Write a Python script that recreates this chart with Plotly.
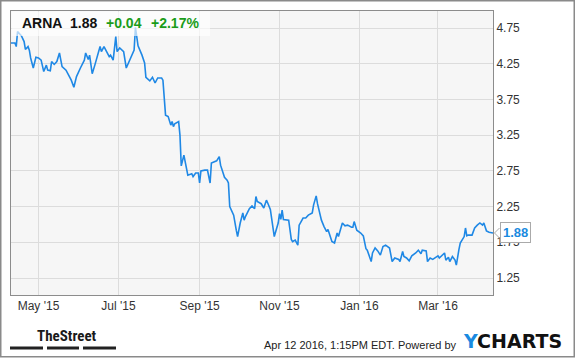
import plotly.graph_objects as go

dates = [
    "2015-04-10", "2015-04-13", "2015-04-14", "2015-04-15", "2015-04-18", "2015-04-20", "2015-04-21",
    "2015-04-23", "2015-04-24", "2015-04-25", "2015-04-27", "2015-04-29", "2015-05-01", "2015-05-03",
    "2015-05-05", "2015-05-07", "2015-05-08", "2015-05-10", "2015-05-11", "2015-05-13", "2015-05-15",
    "2015-05-17", "2015-05-19", "2015-05-22", "2015-05-24", "2015-05-26", "2015-05-28", "2015-05-30",
    "2015-06-02", "2015-06-05", "2015-06-06", "2015-06-08", "2015-06-09", "2015-06-11", "2015-06-13",
    "2015-06-16", "2015-06-17", "2015-06-18", "2015-06-20", "2015-06-22", "2015-06-24", "2015-06-25",
    "2015-06-27", "2015-06-29", "2015-06-30", "2015-07-02", "2015-07-05", "2015-07-07", "2015-07-09",
    "2015-07-11", "2015-07-13", "2015-07-14", "2015-07-16", "2015-07-19", "2015-07-21", "2015-07-22",
    "2015-07-25", "2015-07-27", "2015-07-29", "2015-07-31", "2015-08-03", "2015-08-04", "2015-08-06",
    "2015-08-08", "2015-08-10", "2015-08-11", "2015-08-12", "2015-08-13", "2015-08-16", "2015-08-17",
    "2015-08-18", "2015-08-20", "2015-08-22", "2015-08-23", "2015-08-26", "2015-08-27", "2015-08-29",
    "2015-08-31", "2015-09-01", "2015-09-02", "2015-09-05", "2015-09-07", "2015-09-09", "2015-09-10",
    "2015-09-14", "2015-09-16", "2015-09-17", "2015-09-20", "2015-09-22", "2015-09-23", "2015-09-24",
    "2015-09-27", "2015-09-29", "2015-09-30", "2015-10-02", "2015-10-04", "2015-10-05", "2015-10-06",
    "2015-10-09", "2015-10-11", "2015-10-13", "2015-10-14", "2015-10-15", "2015-10-18", "2015-10-20",
    "2015-10-22", "2015-10-23", "2015-10-25", "2015-10-28", "2015-10-31", "2015-11-01", "2015-11-02",
    "2015-11-03", "2015-11-04", "2015-11-08", "2015-11-10", "2015-11-11", "2015-11-13", "2015-11-15",
    "2015-11-16", "2015-11-19", "2015-11-21", "2015-11-23", "2015-11-26", "2015-11-27", "2015-11-29",
    "2015-11-30", "2015-12-03", "2015-12-05", "2015-12-07", "2015-12-08", "2015-12-09", "2015-12-11",
    "2015-12-13", "2015-12-15", "2015-12-16", "2015-12-19", "2015-12-21", "2015-12-23", "2015-12-26",
    "2015-12-27", "2015-12-28", "2015-12-30", "2016-01-02", "2016-01-04", "2016-01-06", "2016-01-07",
    "2016-01-10", "2016-01-11", "2016-01-13", "2016-01-15", "2016-01-17", "2016-01-19", "2016-01-21",
    "2016-01-24", "2016-01-26", "2016-01-28", "2016-01-31", "2016-02-01", "2016-02-03", "2016-02-04",
    "2016-02-06", "2016-02-08", "2016-02-10", "2016-02-13", "2016-02-15", "2016-02-17", "2016-02-18",
    "2016-02-21", "2016-02-22", "2016-02-24", "2016-02-26", "2016-02-28", "2016-03-01", "2016-03-02",
    "2016-03-04", "2016-03-06", "2016-03-07", "2016-03-09", "2016-03-10", "2016-03-12", "2016-03-14",
    "2016-03-15", "2016-03-17", "2016-03-18", "2016-03-21", "2016-03-22", "2016-03-23", "2016-03-24",
    "2016-03-27", "2016-03-29", "2016-03-31", "2016-04-02", "2016-04-04", "2016-04-05", "2016-04-07",
    "2016-04-09", "2016-04-12",
]

prices = [
    4.54, 4.54, 4.49, 4.70, 4.64, 4.56, 4.45,
    4.49, 4.44, 4.33, 4.19, 4.34, 4.33, 4.30,
    4.14, 4.23, 4.16, 4.15, 4.28, 4.24, 4.28,
    4.40, 4.21, 4.16, 4.09, 4.02, 3.92, 4.07,
    4.19, 4.30, 4.40, 4.31, 4.37, 4.11, 4.23,
    4.42, 4.49, 4.42, 4.49, 4.42, 4.35, 4.37,
    4.30, 4.63, 4.42, 4.47, 4.42, 4.19, 4.28,
    4.37, 4.44, 4.76, 4.50, 4.37, 4.26, 4.06,
    4.01, 4.06, 3.98, 4.05, 4.05, 4.02, 3.53,
    3.51, 3.39, 3.44, 3.37, 3.41, 3.44, 3.25,
    2.82, 2.97, 2.79, 2.69, 2.71, 2.67, 2.72,
    2.72, 2.58, 2.75, 2.76, 2.76, 2.58, 2.86,
    2.89, 2.95, 2.83, 2.66, 2.62, 2.58, 2.25,
    2.13, 1.92, 1.83, 2.02, 2.16, 2.06, 2.11,
    2.22, 2.26, 2.22, 2.39, 2.32, 2.29, 2.23,
    2.34, 2.30, 2.21, 1.83, 2.02, 2.15, 2.07,
    2.20, 2.07, 2.06, 1.79, 1.76, 1.78, 1.71,
    1.99, 2.09, 2.09, 2.13, 2.16, 2.27, 2.40,
    2.29, 2.06, 1.97, 1.90, 1.93, 1.88, 1.76,
    1.74, 1.88, 1.83, 2.02, 1.98, 1.99, 1.96,
    1.96, 2.04, 1.92, 1.88, 1.84, 1.66, 1.64,
    1.48, 1.60, 1.67, 1.63, 1.57, 1.69, 1.71,
    1.67, 1.48, 1.53, 1.51, 1.48, 1.62, 1.55,
    1.53, 1.49, 1.56, 1.60, 1.64, 1.59, 1.64,
    1.63, 1.48, 1.53, 1.51, 1.53, 1.56, 1.53,
    1.57, 1.60, 1.50, 1.54, 1.48, 1.55, 1.50,
    1.43, 1.65, 1.74, 1.83, 1.95, 1.84, 1.85,
    1.85, 1.95, 1.99, 2.02, 1.99, 2.02, 1.91,
    1.89, 1.88,
]

ticker = "ARNA"
last_price = "1.88"
change = "+0.04"
change_pct = "+2.17%"
y_ticks = [1.25, 1.75, 2.25, 2.75, 3.25, 3.75, 4.25, 4.75]
x_tick_vals = ["2015-05-01", "2015-07-01", "2015-09-01", "2015-11-01", "2016-01-01", "2016-03-01"]
x_tick_text = ["May '15", "Jul '15", "Sep '15", "Nov '15", "Jan '16", "Mar '16"]
footer_time = "Apr 12 2016, 1:15PM EDT. Powered by"

BLUE = "#1f88e5"
GREEN = "#1a9c1a"
FONT = "Liberation Sans, Arial, sans-serif"

fig = go.Figure()
fig.add_trace(go.Scatter(
    x=dates, y=prices, mode="lines",
    line=dict(color=BLUE, width=1.6),
    hoverinfo="skip", showlegend=False,
))

fig.update_layout(
    width=575, height=358,
    margin=dict(l=11, r=82, t=11, b=63),
    paper_bgcolor="white",
    plot_bgcolor="#f6f6f6",
    font=dict(family=FONT, size=12, color="#333333"),
    xaxis=dict(
        range=["2015-04-10", "2016-04-12"],
        tickvals=x_tick_vals, ticktext=x_tick_text,
        showgrid=True, gridcolor="#dcdcdc", gridwidth=1,
        showline=True, linecolor="#8c8c8c", linewidth=1, mirror=True,
        ticks="", zeroline=False,
        tickfont=dict(size=12, color="#333333"),
    ),
    yaxis=dict(
        range=[1.012, 4.988],
        side="right",
        tickvals=y_ticks, ticktext=[f"{v:.2f}" for v in y_ticks],
        showgrid=True, gridcolor="#dcdcdc", gridwidth=1,
        showline=True, linecolor="#8c8c8c", linewidth=1, mirror=True,
        ticks="", zeroline=False,
        tickfont=dict(size=12, color="#333333"),
    ),
)

def px_x(p):
    return (p - 11) / 482.0

def px_y(p):
    return (295 - p) / 284.0

shapes = [
    # outer border of the whole image
    dict(type="rect", xref="paper", yref="paper",
         x0=px_x(0.75), x1=px_x(574.25), y0=px_y(356.75), y1=px_y(0.75),
         line=dict(color="#8a8a8a", width=1.5), fillcolor="rgba(0,0,0,0)", layer="above"),
    # header box
    dict(type="rect", xref="paper", yref="paper",
         x0=px_x(11.5), x1=px_x(210), y0=px_y(36), y1=px_y(11.5),
         line=dict(width=0), fillcolor="rgba(255,255,255,0.65)", layer="above"),
    # caret of price label
    dict(type="path", xref="paper", yref="paper",
         path=f"M {px_x(499.5)},{px_y(228)} L {px_x(494.5)},{px_y(233)} L {px_x(499.5)},{px_y(238)}",
         line=dict(color="#aaaaaa", width=1), fillcolor="white", layer="above"),
]
for a, b in [(10, 43), (47, 79), (83, 116)]:
    shapes.append(dict(type="rect", xref="paper", yref="paper",
                       x0=px_x(a), x1=px_x(b), y0=px_y(349.5), y1=px_y(346.5),
                       line=dict(width=0), fillcolor="#222222", layer="above"))
fig.update_layout(shapes=shapes)

ann = [
    dict(text=f"<b>{ticker}</b>", x=px_x(20), y=px_y(23), font=dict(size=14, color="#111111")),
    dict(text=f"<b>{last_price}</b>", x=px_x(68), y=px_y(23), font=dict(size=14, color="#111111")),
    dict(text=f"<b>{change}</b>", x=px_x(104), y=px_y(23), font=dict(size=14, color=GREEN)),
    dict(text=f"<b>{change_pct}</b>", x=px_x(149), y=px_y(23), font=dict(size=14, color=GREEN)),
    dict(text="<b>TheStreet</b>", x=px_x(35), y=px_y(336),
         font=dict(size=15, color="#1a1a1a", family="Liberation Sans Narrow, Arial Narrow, Roboto Condensed, sans-serif")),
    dict(text=footer_time, x=px_x(458), y=px_y(345), xanchor="right",
         font=dict(size=11, color="#222222")),
    dict(text="<b><span style='color:#1a8ae0'>Y</span>CHARTS</b>", x=px_x(461), y=px_y(340.5),
         font=dict(size=19, color="#111111", family="DejaVu Sans, sans-serif")),
]
for a in ann:
    a.setdefault("xanchor", "left")
    a.update(xref="paper", yref="paper", yanchor="middle", showarrow=False)
    fig.add_annotation(**a)

fig.add_annotation(
    x=px_x(499.5), y=px_y(232.5), xref="paper", yref="paper",
    xanchor="left", yanchor="middle", showarrow=False,
    text=f"<b>{last_price}</b>", font=dict(size=13, color="#1a8ae0"),
    bgcolor="white", bordercolor="#aaaaaa", borderwidth=1, borderpad=2,
)

fig.write_html("out.html")
